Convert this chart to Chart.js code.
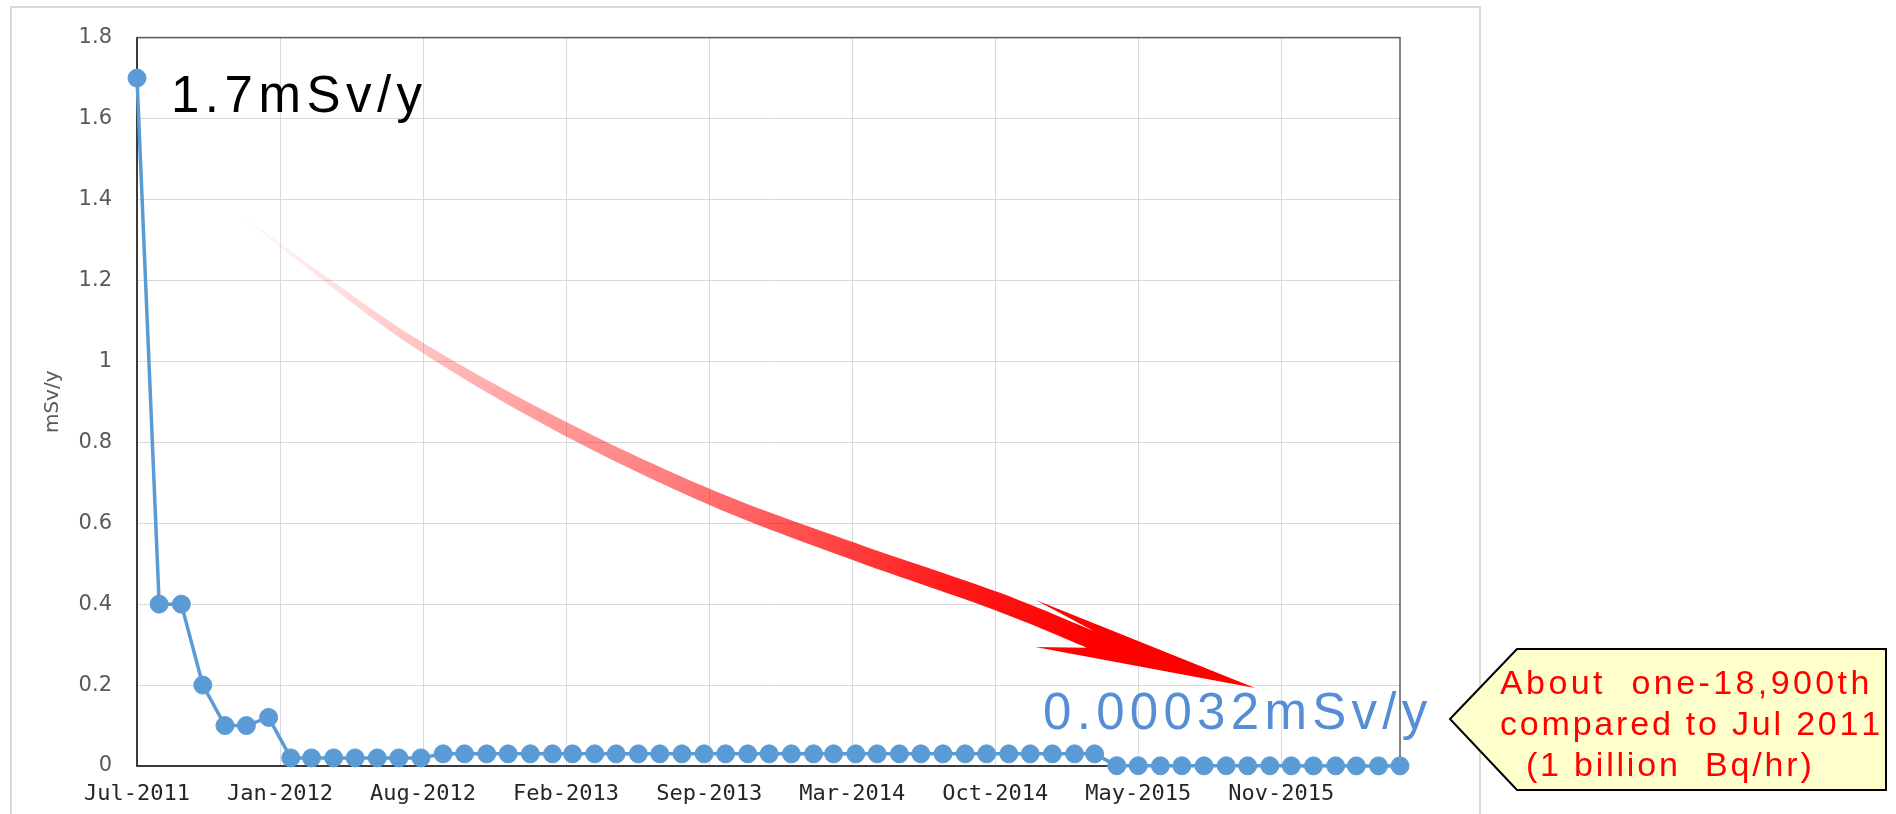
<!DOCTYPE html>
<html>
<head>
<meta charset="utf-8">
<script src="https://cdn.jsdelivr.net/npm/chart.js@4.4.1/dist/chart.umd.min.js"></script>
<style>
  html, body { margin: 0; padding: 0; background: #fff; }
  #contenedor { width: 1896px; height: 814px; position: relative; }
</style>
</head>
<body>
<div id="contenedor"><canvas id="grafico" width="1896" height="814"></canvas></div>
<script>
// Meses de la serie (primer dia de cada mes)
const meses = [
  '2011-07', '2011-08', '2011-09', '2011-10', '2011-11', '2011-12',
  '2012-01', '2012-02', '2012-03', '2012-04', '2012-05', '2012-06',
  '2012-07', '2012-08', '2012-09', '2012-10', '2012-11', '2012-12',
  '2013-01', '2013-02', '2013-03', '2013-04', '2013-05', '2013-06',
  '2013-07', '2013-08', '2013-09', '2013-10', '2013-11', '2013-12',
  '2014-01', '2014-02', '2014-03', '2014-04', '2014-05', '2014-06',
  '2014-07', '2014-08', '2014-09', '2014-10', '2014-11', '2014-12',
  '2015-01', '2015-02', '2015-03', '2015-04', '2015-05', '2015-06',
  '2015-07', '2015-08', '2015-09', '2015-10', '2015-11', '2015-12',
  '2016-01', '2016-02', '2016-03', '2016-04', '2016-05'
];

// Dosis (mSv/y)
const dosis = [
  1.7, 0.4, 0.4, 0.2, 0.1, 0.1,
  0.12, 0.02, 0.02, 0.02, 0.02, 0.02,
  0.02, 0.02, 0.03, 0.03, 0.03, 0.03,
  0.03, 0.03, 0.03, 0.03, 0.03, 0.03,
  0.03, 0.03, 0.03, 0.03, 0.03, 0.03,
  0.03, 0.03, 0.03, 0.03, 0.03, 0.03,
  0.03, 0.03, 0.03, 0.03, 0.03, 0.03,
  0.03, 0.03, 0.03, 0.0007, 0.0006, 0.0005,
  0.0005, 0.0004, 0.0005, 0.0004, 0.0004, 0.0004,
  0.0003, 0.0004, 0.0003, 0.0003, 0.00032
];

// Etiquetas de los ejes (eje X con paso de 200 dias)
const etiquetasX = ['Jul-2011', 'Jan-2012', 'Aug-2012', 'Feb-2013', 'Sep-2013', 'Mar-2014', 'Oct-2014', 'May-2015', 'Nov-2015'];
const etiquetasY = ['0', '0.2', '0.4', '0.6', '0.8', '1', '1.2', '1.4', '1.6', '1.8'];

const PASO_DIAS = 200;
const origen = Date.UTC(2011, 6, 1);
const diaDe = m => (Date.UTC(+m.slice(0, 4), +m.slice(5, 7) - 1, 1) - origen) / 86400000;
const puntos = meses.map((m, i) => ({ x: diaDe(m), y: dosis[i] }));

const AZUL = '#5B9BD5';

// Flecha roja: eje central en coordenadas de datos (dia, mSv/y) y ancho en px
const flechaEje = [[136.5, 1.374], [264.2, 1.202], [401.7, 1.031], [598.2, 0.834], [804.6, 0.662], [1001, 0.531], [1202.4, 0.407], [1332.7, 0.313]];
const flechaAncho = [1, 5, 9, 13, 15, 17, 18, 18];
const flechaCabeza = { arriba: [1256, 0.411], abajo: [1256, 0.294], punta: [1563.4, 0.193] };

function textoEspaciado(ctx, txt, x, y, esp) {
  for (const ch of txt) {
    ctx.fillText(ch, x, y);
    x += ctx.measureText(ch).width + esp;
  }
  return x;
}

function catmull(p0, p1, p2, p3, t) {
  const t2 = t * t, t3 = t2 * t;
  return 0.5 * ((2 * p1) + (-p0 + p2) * t + (2 * p0 - 5 * p1 + 4 * p2 - p3) * t2 + (-p0 + 3 * p1 - 3 * p2 + p3) * t3);
}

const marco = {
  id: 'marco',
  beforeDraw(chart) {
    const ctx = chart.ctx;
    ctx.save();
    ctx.fillStyle = '#fff';
    ctx.fillRect(0, 0, chart.width, chart.height);
    ctx.strokeStyle = '#d9d9d9';
    ctx.lineWidth = 2;
    ctx.strokeRect(11, 7, 1469, 900);
    ctx.restore();
  },
  beforeDatasetsDraw(chart) {
    const { ctx, chartArea: a } = chart;
    ctx.save();
    ctx.strokeStyle = '#595959';
    ctx.lineWidth = 1.5;
    ctx.strokeRect(a.left, a.top, a.right - a.left, a.bottom - a.top);
    ctx.strokeStyle = '#262626';
    ctx.beginPath();
    ctx.moveTo(a.left, a.top);
    ctx.lineTo(a.left, a.bottom);
    ctx.lineTo(a.right, a.bottom);
    ctx.stroke();
    ctx.restore();
  }
};

const anotaciones = {
  id: 'anotaciones',
  afterDatasetsDraw(chart) {
    const { ctx, chartArea: a } = chart;
    const sx = chart.scales.x, sy = chart.scales.y;
    const px = p => ({ x: sx.getPixelForValue(p[0]), y: sy.getPixelForValue(p[1]) });
    ctx.save();

    // --- flecha curva con degradado ---
    const eje = flechaEje.map((p, i) => ({ ...px(p), w: flechaAncho[i] }));
    const densos = [];
    for (let i = 0; i < eje.length - 1; i++) {
      const p0 = eje[Math.max(i - 1, 0)], p1 = eje[i], p2 = eje[i + 1], p3 = eje[Math.min(i + 2, eje.length - 1)];
      for (let k = 0; k < 12; k++) {
        const t = k / 12;
        densos.push({ x: catmull(p0.x, p1.x, p2.x, p3.x, t), y: catmull(p0.y, p1.y, p2.y, p3.y, t), w: p1.w + (p2.w - p1.w) * t });
      }
    }
    densos.push(eje[eje.length - 1]);
    const sup = [], inf = [];
    densos.forEach((p, j) => {
      const a0 = densos[Math.max(j - 1, 0)], a1 = densos[Math.min(j + 1, densos.length - 1)];
      let tx = a1.x - a0.x, ty = a1.y - a0.y;
      const l = Math.hypot(tx, ty) || 1;
      tx /= l; ty /= l;
      const nx = -ty, ny = tx;
      sup.push({ x: p.x - nx * p.w / 2, y: p.y - ny * p.w / 2 });
      inf.push({ x: p.x + nx * p.w / 2, y: p.y + ny * p.w / 2 });
    });
    const bArr = px(flechaCabeza.arriba), bAba = px(flechaCabeza.abajo), pun = px(flechaCabeza.punta);
    const g = ctx.createLinearGradient(eje[0].x, eje[0].y, pun.x, pun.y);
    g.addColorStop(0, 'rgba(255,0,0,0)');
    g.addColorStop(0.05, 'rgba(255,40,40,0.06)');
    g.addColorStop(0.18, 'rgba(255,40,40,0.25)');
    g.addColorStop(0.31, 'rgba(255,30,30,0.42)');
    g.addColorStop(0.45, 'rgba(255,20,20,0.55)');
    g.addColorStop(0.58, 'rgba(255,10,10,0.72)');
    g.addColorStop(0.72, 'rgba(255,0,0,0.9)');
    g.addColorStop(0.85, 'rgba(255,0,0,1)');
    g.addColorStop(1, 'rgba(255,0,0,1)');
    ctx.fillStyle = g;
    ctx.beginPath();
    ctx.moveTo(sup[0].x, sup[0].y);
    sup.forEach(p => ctx.lineTo(p.x, p.y));
    ctx.lineTo(bArr.x, bArr.y);
    ctx.lineTo(pun.x, pun.y);
    ctx.lineTo(bAba.x, bAba.y);
    for (let j = inf.length - 1; j >= 0; j--) ctx.lineTo(inf[j].x, inf[j].y);
    ctx.closePath();
    ctx.fill();

    // --- textos de los extremos ---
    const primero = px([puntos[0].x, puntos[0].y]);
    const ultimo = px([puntos[puntos.length - 1].x, 0]);
    ctx.font = '51px "Liberation Sans", Arial, sans-serif';
    ctx.textBaseline = 'alphabetic';
    ctx.textAlign = 'left';
    ctx.fillStyle = '#000';
    textoEspaciado(ctx, '1.7mSv/y', primero.x + 34, primero.y + 33.5, 5.5);
    ctx.fillStyle = '#558ED5';
    textoEspaciado(ctx, '0.00032mSv/y', ultimo.x - 357, ultimo.y - 37, 5.3);

    // --- recuadro amarillo ---
    const tipX = a.right + 50, tipY = ultimo.y - 47;
    ctx.beginPath();
    ctx.moveTo(tipX, tipY);
    ctx.lineTo(tipX + 67, tipY - 70);
    ctx.lineTo(tipX + 436, tipY - 70);
    ctx.lineTo(tipX + 436, tipY + 71);
    ctx.lineTo(tipX + 67, tipY + 71);
    ctx.closePath();
    ctx.fillStyle = '#FFFFCC';
    ctx.fill();
    ctx.strokeStyle = '#000';
    ctx.lineWidth = 2;
    ctx.stroke();
    ctx.fillStyle = '#FF0000';
    ctx.font = '34px "Liberation Sans", Arial, sans-serif';
    textoEspaciado(ctx, 'About  one-18,900th', tipX + 50, tipY - 25, 3.4);
    textoEspaciado(ctx, 'compared to Jul 2011', tipX + 50, tipY + 16, 2.8);
    textoEspaciado(ctx, '(1 billion  Bq/hr)', tipX + 76, tipY + 57, 2.8);
    ctx.restore();
  }
};

new Chart(document.getElementById('grafico'), {
  type: 'line',
  data: {
    datasets: [{
      data: puntos,
      borderColor: AZUL,
      backgroundColor: AZUL,
      borderWidth: 3.5,
      pointRadius: 9,
      pointBorderWidth: 1,
      pointBorderColor: AZUL,
      pointBackgroundColor: AZUL,
      tension: 0,
      clip: false
    }]
  },
  options: {
    responsive: false,
    animation: false,
    events: [],
    layout: { padding: { left: 0, right: 496, top: 33, bottom: 0 } },
    plugins: { legend: { display: false }, tooltip: { enabled: false } },
    scales: {
      x: {
        type: 'linear',
        min: 0,
        max: puntos[puntos.length - 1].x,
        // una marca cada 200 dias, como en el original
        afterBuildTicks: s => { s.ticks = etiquetasX.map((_, i) => ({ value: i * PASO_DIAS })); },
        afterFit: s => { s.height = 48; },
        grid: { color: '#d9d9d9', lineWidth: 1, drawTicks: false },
        border: { display: false },
        ticks: {
          autoSkip: false,
          maxRotation: 0,
          minRotation: 0,
          padding: 15,
          color: '#262626',
          font: { family: '"DejaVu Sans Mono", monospace', size: 22 },
          callback: v => etiquetasX[Math.round(v / PASO_DIAS)] ?? ''
        }
      },
      y: {
        min: 0,
        max: 1.8,
        afterFit: s => { s.width = 137; },
        grid: { color: '#d9d9d9', lineWidth: 1, drawTicks: false },
        border: { display: false },
        title: {
          display: true,
          text: 'mSv/y',
          color: '#595959',
          font: { family: '"DejaVu Sans", sans-serif', size: 20 },
          padding: { top: 41, bottom: 0 }
        },
        ticks: {
          stepSize: 0.2,
          padding: 25,
          color: '#595959',
          font: { family: '"DejaVu Sans", sans-serif', size: 21 },
          callback: (v, i) => etiquetasY[i]
        }
      }
    }
  },
  plugins: [marco, anotaciones]
});
</script>
</body>
</html>
